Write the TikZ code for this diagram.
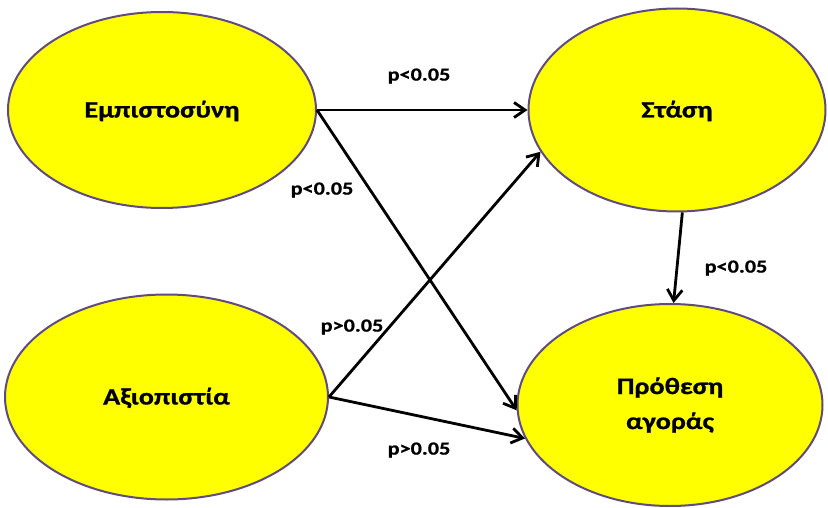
\documentclass[tikz,border=0pt]{standalone}
\usepackage{fontspec}
\setmainfont{Carlito}
\newfontfamily\diagfont{Carlito}[FakeStretch=1.2, BoldFeatures={FakeBold=0.8, FakeStretch=1.2}]
\usetikzlibrary{shapes.geometric,arrows.meta}
\definecolor{ovalfill}{HTML}{FFFF00}
\definecolor{ovalline}{HTML}{5F4B7E}
\tikzset{
  construct/.style={ellipse, draw=ovalline, line width=2pt, fill=ovalfill,
    inner sep=0pt, align=center, font=\diagfont\fontsize{23.5}{35}\selectfont\bfseries},
  oneline/.style={text height=15pt, text depth=0pt},
  path/.style={line width=2.8pt, -{Straight Barb[length=11pt,width=15pt,line width=2.8pt]}},
  pval/.style={font=\diagfont\fontsize{18.5}{22}\selectfont\bfseries, inner sep=0pt}
}
\begin{document}
\begin{tikzpicture}[x=1pt,y=-1pt]
  \useasboundingbox (0,0) rectangle (828,508);
  % latent constructs
  \node[construct, oneline, minimum width=308pt, minimum height=196pt] (trust) at (162,110) {Εμπιστοσύνη};
  \node[construct, oneline, minimum width=297pt, minimum height=203pt] (attitude) at (677,110) {Στάση};
  \node[construct, oneline, minimum width=323pt, minimum height=205pt] (cred) at (166.5,397) {Αξιοπιστία};
  \node[construct, minimum width=305pt, minimum height=202pt] (intent) at (670,405) {Πρόθεση\\αγοράς};
  % structural paths
  \draw[path] (trust.east) -- (attitude.west);
  \draw[path] (trust.east) -- (intent.182);
  \draw[path] (cred.east) -- (attitude.197);
  \draw[path] (cred.east) -- (intent.193);
  \draw[path] (attitude.-87) -- (intent.88);
  % significance labels
  \node[pval] (l1) at (419,76) {p<0.05};
  \node[pval] (l2) at (322,190) {p<0.05};
  \node[pval] (l3) at (736,268) {p<0.05};
  \node[pval] (l4) at (352,327) {p>0.05};
  \node[pval] (l5) at (419,450) {p>0.05};
\end{tikzpicture}
\end{document}
